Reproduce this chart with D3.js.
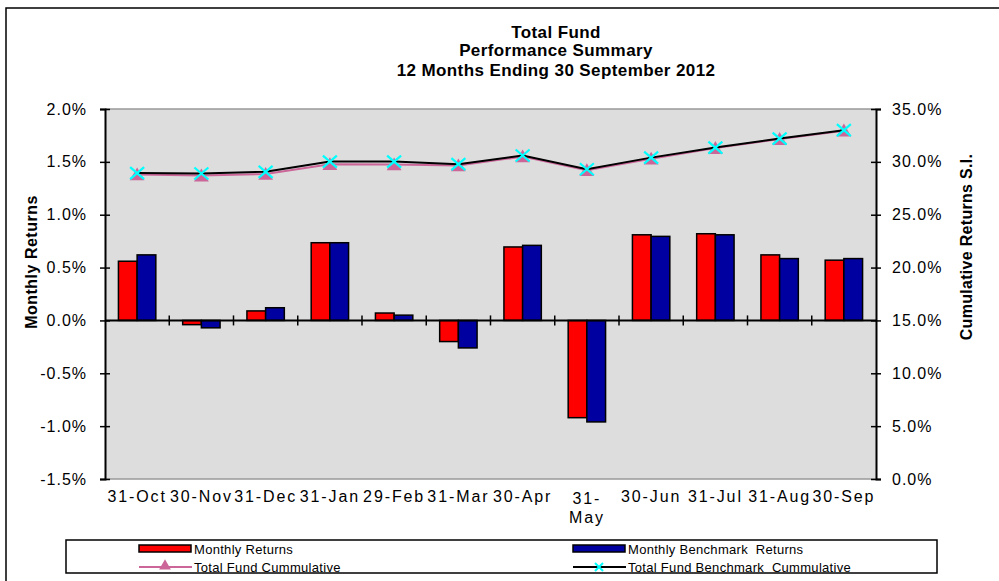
<!DOCTYPE html>
<html>
<head>
<meta charset="utf-8">
<script src="https://cdn.jsdelivr.net/npm/d3@7"></script>
<style>
  body { margin: 0; background: #fff; }
  svg { font-family: "Liberation Sans", Arial, sans-serif; }
</style>
</head>
<body>
<script>
var width = 999;
var height = 581;

// data (percent)
var months = ["31-Oct", "30-Nov", "31-Dec", "31-Jan", "29-Feb", "31-Mar", "30-Apr", "31-May", "30-Jun", "31-Jul", "31-Aug", "30-Sep"];
var fundMonthly = [0.56, -0.04, 0.09, 0.735, 0.07, -0.20, 0.695, -0.92, 0.81, 0.82, 0.62, 0.57];
var benchMonthly = [0.62, -0.07, 0.12, 0.735, 0.05, -0.26, 0.71, -0.96, 0.795, 0.81, 0.585, 0.585];
var fundCumulative = [28.8, 28.7, 28.85, 29.78, 29.75, 29.65, 30.5, 29.2, 30.3, 31.3, 32.15, 32.95];
var benchCumulative = [28.94, 28.9, 29.06, 30.03, 30.03, 29.78, 30.6, 29.3, 30.4, 31.35, 32.2, 33.0];
var leftTicks = [-1.5, -1.0, -0.5, 0, 0.5, 1.0, 1.5, 2.0];
var rightTicks = [0, 5, 10, 15, 20, 25, 30, 35];
var titleLines = ["Total Fund", "Performance Summary", "12 Months Ending 30 September 2012"];

var pLeft = 105, pRight = 876, pTop = 109, pBottom = 479;

var svg = d3.select("body").append("svg")
  .attr("width", width)
  .attr("height", height);

// outer frame
svg.append("rect")
  .attr("x", 6).attr("y", 8)
  .attr("width", 1000).attr("height", 600)
  .style("fill", "#fff")
  .style("stroke", "#000")
  .style("stroke-width", 1.5);

var x = d3.scaleBand().domain(months).range([pLeft, pRight]);
var yL = d3.scaleLinear().domain([-1.5, 2.0]).range([pBottom, pTop]);
var yR = d3.scaleLinear().domain([0, 35]).range([pBottom, pTop]);

var groupW = x.bandwidth() * 0.582;
var sub = d3.scaleBand().domain(["fund", "bench"]).range([0, groupW]);

// plot area
svg.append("rect")
  .attr("x", pLeft).attr("y", pTop)
  .attr("width", pRight - pLeft).attr("height", pBottom - pTop)
  .style("fill", "#dddddd");
svg.append("line")
  .attr("x1", pLeft).attr("x2", pRight).attr("y1", pTop).attr("y2", pTop)
  .style("stroke", "#999").style("stroke-width", 1.5);
svg.append("line")
  .attr("x1", pLeft).attr("x2", pRight).attr("y1", pBottom).attr("y2", pBottom)
  .style("stroke", "#999").style("stroke-width", 1.5);

// bars
var rows = months.map(function(m, i) {
  return { month: m, fund: fundMonthly[i], bench: benchMonthly[i] };
});

var groups = svg.selectAll("g.grp")
  .data(rows)
  .enter().append("g")
  .attr("class", "grp")
  .attr("transform", function(d) {
    return "translate(" + (x(d.month) + (x.bandwidth() - groupW) / 2) + ",0)";
  });

groups.selectAll("rect")
  .data(function(d) {
    return [{ key: "fund", v: d.fund }, { key: "bench", v: d.bench }];
  })
  .enter().append("rect")
  .attr("x", function(d) { return sub(d.key); })
  .attr("width", sub.bandwidth())
  .attr("y", function(d) { return yL(Math.max(0, d.v)); })
  .attr("height", function(d) { return Math.abs(yL(d.v) - yL(0)); })
  .style("fill", function(d) { return d.key == "fund" ? "#ff0000" : "#0000a0"; })
  .style("stroke", "#000")
  .style("stroke-width", 1.5);

// zero line with category ticks
svg.append("line")
  .attr("x1", pLeft).attr("x2", pRight)
  .attr("y1", yL(0)).attr("y2", yL(0))
  .style("stroke", "#000").style("stroke-width", 2);
svg.selectAll("line.ctick")
  .data(months.slice(1))
  .enter().append("line")
  .attr("class", "ctick")
  .attr("x1", function(d) { return x(d); })
  .attr("x2", function(d) { return x(d); })
  .attr("y1", yL(0) - 5).attr("y2", yL(0) + 5)
  .style("stroke", "#000").style("stroke-width", 1.5);

// cumulative lines
var line = function(vals) {
  return d3.line()
    .x(function(d, i) { return x(months[i]) + x.bandwidth() / 2; })
    .y(function(d) { return yR(d); })(vals);
};

svg.append("path")
  .attr("d", line(fundCumulative))
  .style("fill", "none").style("stroke", "#cc6699").style("stroke-width", 2);
svg.selectAll("path.tri")
  .data(fundCumulative)
  .enter().append("path")
  .attr("class", "tri")
  .attr("d", d3.symbol().type(d3.symbolTriangle).size(95))
  .attr("transform", function(d, i) {
    return "translate(" + (x(months[i]) + x.bandwidth() / 2) + "," + (yR(d) + 1.5) + ")";
  })
  .style("fill", "#cc6699");

svg.append("path")
  .attr("d", line(benchCumulative))
  .style("fill", "none").style("stroke", "#000").style("stroke-width", 2);
svg.selectAll("path.cross")
  .data(benchCumulative)
  .enter().append("path")
  .attr("class", "cross")
  .attr("d", "M-7,-6L7,6M-7,6L7,-6")
  .attr("transform", function(d, i) {
    return "translate(" + (x(months[i]) + x.bandwidth() / 2) + "," + yR(d) + ")";
  })
  .style("stroke", "#00ffff").style("stroke-width", 2.2);

// axes
var fmt = function(d) { return d.toFixed(1) + "%"; };

var gl = svg.append("g")
  .attr("transform", "translate(" + pLeft + ",0)")
  .call(d3.axisLeft(yL).tickValues(leftTicks).tickFormat(fmt).tickSize(5).tickPadding(13));
gl.selectAll(".tick line").attr("x1", 5);

var gr = svg.append("g")
  .attr("transform", "translate(" + pRight + ",0)")
  .call(d3.axisRight(yR).tickValues(rightTicks).tickFormat(fmt).tickSize(5).tickPadding(11));
gr.selectAll(".tick line").attr("x1", -5);

[gl, gr].forEach(function(g) {
  g.select(".domain").style("stroke-width", 2);
  g.selectAll(".tick line").style("stroke-width", 1.5);
  g.selectAll("text")
    .style("font-size", "16px")
    .style("letter-spacing", "1px")
    .style("font-family", "Liberation Sans, Arial, sans-serif")
    .attr("fill", "#000");
});

// category labels
var gx = svg.append("g")
  .attr("transform", "translate(0," + pBottom + ")")
  .call(d3.axisBottom(x).tickSize(0).tickPadding(12).tickFormat(function(d) {
    return d == "31-May" ? "" : d;
  }));
gx.select(".domain").remove();
gx.selectAll("text")
  .style("font-size", "16px")
  .style("letter-spacing", "1.9px")
  .style("font-family", "Liberation Sans, Arial, sans-serif")
  .attr("fill", "#000");
var may = svg.append("text")
  .attr("x", x("31-May") + x.bandwidth() / 2)
  .attr("y", 504)
  .attr("text-anchor", "middle")
  .style("font-size", "16px")
  .style("letter-spacing", "1.9px");
may.append("tspan").attr("x", x("31-May") + x.bandwidth() / 2).text("31-");
may.append("tspan").attr("x", x("31-May") + x.bandwidth() / 2).attr("dy", 19).text("May");

// axis titles
svg.append("text")
  .attr("transform", "translate(37," + 262 + ") rotate(-90)")
  .attr("text-anchor", "middle")
  .style("font-size", "16px").style("font-weight", "bold")
  .style("letter-spacing", "0.5px")
  .text("Monthly Returns");
svg.append("text")
  .attr("transform", "translate(972," + 247 + ") rotate(-90)")
  .attr("text-anchor", "middle")
  .style("font-size", "16px").style("font-weight", "bold")
  .style("letter-spacing", "0.3px")
  .text("Cumulative Returns S.I.");

// title
svg.selectAll("text.title")
  .data(titleLines)
  .enter().append("text")
  .attr("class", "title")
  .attr("x", 556)
  .attr("y", function(d, i) { return [38, 56, 76][i]; })
  .attr("text-anchor", "middle")
  .style("font-size", "17px").style("font-weight", "bold")
  .style("letter-spacing", "0.4px")
  .text(function(d) { return d; });

// legend
svg.append("rect")
  .attr("x", 66).attr("y", 540)
  .attr("width", 871).attr("height", 33)
  .style("fill", "#fff").style("stroke", "#000").style("stroke-width", 1.5);

var legendItems = [
  { label: "Monthly Returns", kind: "bar", color: "#ff0000", lx: 139, ly: 549 },
  { label: "Monthly Benchmark  Returns", kind: "bar", color: "#0000a0", lx: 573, ly: 549 },
  { label: "Total Fund Cummulative", kind: "tri", color: "#cc6699", lx: 139, ly: 567 },
  { label: "Total Fund Benchmark  Cummulative", kind: "cross", color: "#000", lx: 573, ly: 567 }
];

var lg = svg.selectAll("g.leg")
  .data(legendItems)
  .enter().append("g")
  .attr("class", "leg")
  .attr("transform", function(d) { return "translate(" + d.lx + "," + d.ly + ")"; });

lg.filter(function(d) { return d.kind == "bar"; })
  .append("rect")
  .attr("x", 0).attr("y", -4).attr("width", 52).attr("height", 7)
  .style("fill", function(d) { return d.color; })
  .style("stroke", "#000").style("stroke-width", 1.5);

lg.filter(function(d) { return d.kind != "bar"; })
  .append("line")
  .attr("x1", 0).attr("x2", 53).attr("y1", 0).attr("y2", 0)
  .style("stroke", function(d) { return d.color; }).style("stroke-width", 2);

lg.filter(function(d) { return d.kind == "tri"; })
  .append("path")
  .attr("d", d3.symbol().type(d3.symbolTriangle).size(60))
  .attr("transform", "translate(26,-1)")
  .style("fill", "#cc6699");

lg.filter(function(d) { return d.kind == "cross"; })
  .append("path")
  .attr("d", "M-4,-4L4,4M-4,4L4,-4")
  .attr("transform", "translate(26,0)")
  .style("stroke", "#00ffff").style("stroke-width", 2);

lg.append("text")
  .attr("x", 55).attr("y", 5)
  .style("font-size", "13px")
  .style("letter-spacing", "0.3px")
  .style("white-space", "pre")
  .text(function(d) { return d.label; });
</script>
</body>
</html>
